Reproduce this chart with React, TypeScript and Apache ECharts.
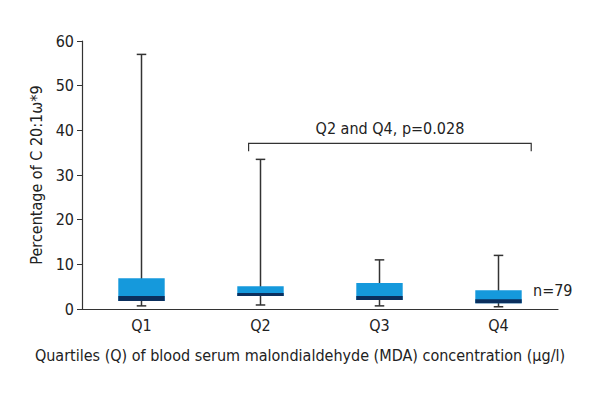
import React, { useEffect, useRef } from "react";
import * as echarts from "echarts";

const categories = ["Q1", "Q2", "Q3", "Q4"];
const mins = [0.7, 0.9, 0.7, 0.5];
const lowerQuartiles = [1.8, 2.9, 2.0, 1.3];
const medians = [2.9, 3.6, 2.9, 2.2];
const upperQuartiles = [6.9, 5.1, 5.8, 4.2];
const maxes = [57, 33.5, 11, 12];
const yTicks = { min: 0, max: 60, interval: 10 };
const bracketLabel = "Q2 and Q4, p=0.028";
const bracketY = 37.1;
const bracketDrop = 1.8;
const nLabel = "n=79";

const FONT = "'Liberation Sans Narrow', 'DejaVu Sans Condensed', 'Roboto Condensed', sans-serif";
const LIGHT = "#1599dc";
const DARK = "#0b2f5e";
const INK = "#333333";

export default function App() {
  const ref = useRef<HTMLDivElement>(null);
  useEffect(() => {
    if (!ref.current) return;
    const chart = echarts.init(ref.current, undefined, { renderer: "svg" });
    const boxData = categories.map((_, i) => [
      i,
      mins[i],
      lowerQuartiles[i],
      medians[i],
      upperQuartiles[i],
      maxes[i],
    ]);
    chart.setOption({
      animation: false,
      backgroundColor: "#ffffff",
      grid: { left: 82, right: 42, top: 41, bottom: 91 },
      xAxis: {
        type: "category",
        data: categories,
        boundaryGap: true,
        axisTick: { show: false },
        axisLine: { lineStyle: { color: INK, width: 1.2 } },
        axisLabel: { color: "#222", fontFamily: FONT, fontSize: 16, margin: 8 },
        name: "Quartiles (Q) of blood serum malondialdehyde (MDA) concentration (μg/l)",
        nameLocation: "middle",
        nameGap: 38,
        nameTextStyle: { color: "#222", fontFamily: FONT, fontSize: 16, padding: [0, 40, 0, 0] },
      },
      yAxis: {
        type: "value",
        min: yTicks.min,
        max: yTicks.max,
        interval: yTicks.interval,
        splitLine: { show: false },
        axisLine: { show: true, lineStyle: { color: INK, width: 1.2 } },
        axisTick: { show: true, length: 5, lineStyle: { color: INK } },
        axisLabel: { color: "#222", fontFamily: FONT, fontSize: 16, margin: 8 },
        name: "Percentage of C 20:1ω*9",
        nameLocation: "middle",
        nameGap: 34,
        nameTextStyle: { color: "#222", fontFamily: FONT, fontSize: 16 },
      },
      series: [
        {
          type: "custom",
          data: boxData,
          encode: { x: 0, y: [1, 2, 3, 4, 5] },
          renderItem: (params: any, api: any) => {
            const idx = api.value(0);
            const band = api.size([1, 0])[0];
            const boxW = band * 0.39;
            const capW = band * 0.08;
            const pMin = api.coord([idx, api.value(1)]);
            const pQ1 = api.coord([idx, api.value(2)]);
            const pMed = api.coord([idx, api.value(3)]);
            const pQ3 = api.coord([idx, api.value(4)]);
            const pMax = api.coord([idx, api.value(5)]);
            const cx = pMin[0];
            const lineStyle = { stroke: INK, lineWidth: 1.5 };
            return {
              type: "group",
              children: [
                { type: "line", shape: { x1: cx, y1: pMin[1], x2: cx, y2: pMax[1] }, style: lineStyle },
                { type: "line", shape: { x1: cx - capW / 2, y1: pMax[1], x2: cx + capW / 2, y2: pMax[1] }, style: lineStyle },
                { type: "line", shape: { x1: cx - capW / 2, y1: pMin[1], x2: cx + capW / 2, y2: pMin[1] }, style: lineStyle },
                { type: "rect", shape: { x: cx - boxW / 2, y: pQ3[1], width: boxW, height: pQ1[1] - pQ3[1] }, style: { fill: LIGHT } },
                { type: "rect", shape: { x: cx - boxW / 2, y: pMed[1], width: boxW, height: pQ1[1] - pMed[1] }, style: { fill: DARK } },
              ],
            };
          },
        },
        {
          type: "custom",
          data: [[1, 3, bracketY]],
          encode: { x: [0, 1], y: 2 },
          renderItem: (params: any, api: any) => {
            const band = api.size([1, 0])[0];
            const a = api.coord([api.value(0), api.value(2)]);
            const b = api.coord([api.value(1), api.value(2)]);
            const drop = api.coord([api.value(0), api.value(2) - bracketDrop]);
            const x1 = a[0] - band * 0.1;
            const x2 = b[0] + band * 0.275;
            const y = a[1];
            return {
              type: "group",
              children: [
                {
                  type: "polyline",
                  shape: { points: [[x1, drop[1]], [x1, y], [x2, y], [x2, drop[1]]] },
                  style: { stroke: INK, lineWidth: 1.2, fill: "none" },
                },
                {
                  type: "text",
                  x: (x1 + x2) / 2,
                  y: y - 7,
                  style: {
                    text: bracketLabel,
                    fontFamily: FONT,
                    fontSize: 16,
                    fill: "#222",
                    align: "center",
                    verticalAlign: "bottom",
                  },
                },
              ],
            };
          },
        },
      ],
      graphic: [
        {
          type: "text",
          left: 533,
          top: 282,
          style: { text: nLabel, fontFamily: FONT, fontSize: 16, fill: "#222" },
        },
      ],
    });
    return () => chart.dispose();
  }, []);
  return (
    <div
      ref={ref}
      style={{ position: "absolute", left: 0, top: 0, width: 600, height: 400 }}
    />
  );
}
